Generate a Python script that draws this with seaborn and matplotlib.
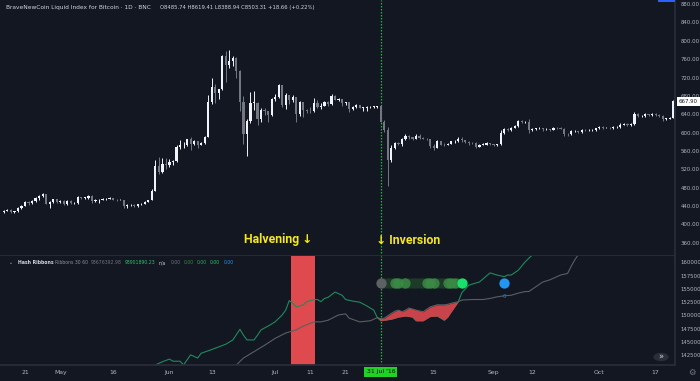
import numpy as np
import pandas as pd
import seaborn as sns
import matplotlib
matplotlib.use("Agg")
import matplotlib.pyplot as plt
import matplotlib.dates as mdates
import matplotlib.transforms as mtransforms
from matplotlib.patches import Rectangle, Circle

# Daily BNC candles, 15 Apr - 22 Oct 2016 (open = previous close)
first_open = 427
closes_apr = [430, 432, 427, 428, 435, 441, 449, 446, 450, 458, 461, 466, 445, 449, 455, 448]
highs_apr = [432, 434, 433, 430, 437, 443, 451, 450, 452, 460, 465, 469, 467, 451, 456, 456]
lows_apr = [425, 428, 425, 425, 427, 434, 440, 443, 444, 449, 453, 460, 444, 436, 446, 447]

closes_may = [451, 444, 450, 446, 447, 459, 458, 458, 461, 450, 452, 454, 455, 456, 457, 454,
              453, 454, 440, 442, 443, 439, 444, 445, 449, 453, 473, 527, 515, 531, 530]
highs_may = [452, 452, 452, 452, 449, 461, 460, 460, 464, 463, 455, 456, 458, 458, 459, 458,
             455, 456, 454, 444, 445, 444, 445, 447, 450, 454, 477, 540, 547, 545, 545]
lows_may = [447, 442, 442, 444, 444, 445, 455, 456, 456, 447, 448, 447, 452, 454, 455, 453,
            451, 452, 436, 436, 440, 437, 438, 442, 444, 448, 452, 472, 510, 512, 520]

closes_jun = [536, 537, 569, 572, 574, 585, 576, 581, 574, 577, 591, 667, 700, 686, 694, 766,
              748, 756, 763, 735, 666, 596, 625, 665, 665, 629, 650, 647, 639, 673]
highs_jun = [543, 540, 572, 584, 580, 586, 590, 583, 581, 580, 593, 682, 718, 705, 696, 770,
             778, 780, 766, 764, 736, 680, 630, 688, 690, 667, 653, 653, 647, 675]
lows_jun = [525, 530, 536, 565, 567, 570, 563, 572, 567, 572, 575, 590, 662, 665, 674, 693,
            711, 740, 745, 718, 647, 575, 548, 620, 649, 616, 624, 638, 622, 636]

closes_jul = [677, 703, 660, 683, 670, 677, 640, 666, 650, 648, 647, 665, 655, 659, 667, 662,
              679, 672, 673, 665, 666, 651, 656, 661, 654, 654, 655, 656, 656, 657, 624]
highs_jul = [685, 705, 704, 686, 683, 682, 677, 669, 667, 651, 655, 675, 672, 665, 668, 668,
             685, 682, 675, 673, 667, 666, 658, 662, 661, 656, 657, 657, 657, 659, 657]
lows_jul = [669, 675, 655, 651, 662, 666, 623, 637, 633, 642, 643, 645, 654, 651, 658, 659,
            660, 670, 668, 659, 661, 645, 650, 653, 653, 648, 647, 653, 653, 654, 622]

closes_aug = [606, 540, 566, 578, 575, 587, 592, 591, 587, 592, 589, 587, 585, 570, 567, 581,
              574, 573, 575, 581, 581, 586, 583, 580, 578, 577, 569, 574, 574, 577, 575]
highs_aug = [627, 612, 573, 580, 580, 589, 597, 594, 591, 598, 598, 590, 589, 587, 575, 583,
             582, 578, 578, 582, 583, 590, 590, 584, 582, 580, 579, 576, 577, 579, 578]
lows_aug = [602, 484, 535, 564, 573, 571, 583, 587, 583, 585, 586, 585, 583, 566, 563, 566,
            572, 570, 572, 575, 578, 580, 580, 578, 574, 575, 566, 568, 572, 573, 573]

closes_sep = [572, 575, 599, 608, 606, 610, 614, 626, 622, 623, 606, 608, 609, 610, 607, 607,
              606, 611, 610, 608, 597, 596, 603, 603, 601, 606, 605, 605, 605, 609]
highs_sep = [575, 576, 605, 611, 609, 612, 616, 628, 627, 625, 630, 610, 611, 612, 611, 609,
             608, 612, 613, 612, 609, 599, 605, 605, 604, 608, 608, 607, 608, 611]
lows_sep = [570, 570, 574, 598, 603, 604, 609, 613, 620, 620, 600, 603, 606, 607, 604, 605,
            604, 605, 608, 607, 592, 593, 595, 601, 599, 599, 603, 603, 603, 604]

closes_oct = [613, 610, 611, 609, 612, 612, 617, 619, 616, 618, 641, 636, 636, 640, 638, 641,
              639, 637, 630, 630, 632, 667.9]
highs_oct = [615, 614, 613, 612, 614, 615, 620, 621, 620, 620, 644, 642, 639, 642, 641, 643,
             642, 640, 638, 632, 634, 670]
lows_oct = [608, 608, 609, 607, 608, 610, 610, 616, 614, 615, 617, 633, 633, 635, 636, 637,
            636, 634, 626, 627, 629, 631]

# Hash ribbons: fast (30) and slow (60) lines, red cloud where fast < slow
fast_pre_dates = ["2016-05-24", "2016-05-28", "2016-05-30", "2016-06-01", "2016-06-02", "2016-06-04",
                  "2016-06-05", "2016-06-07", "2016-06-09", "2016-06-10", "2016-06-13", "2016-06-15",
                  "2016-06-17", "2016-06-19", "2016-06-21", "2016-06-22", "2016-06-23", "2016-06-25",
                  "2016-06-26", "2016-06-27", "2016-06-29", "2016-07-01", "2016-07-03", "2016-07-04",
                  "2016-07-05", "2016-07-06", "2016-07-07", "2016-07-09", "2016-07-10", "2016-07-12",
                  "2016-07-13", "2016-07-14", "2016-07-15", "2016-07-16", "2016-07-18", "2016-07-20",
                  "2016-07-21", "2016-07-23", "2016-07-25", "2016-07-27", "2016-07-29"]
fast_pre = [1396000, 1407000, 1413000, 1418000, 1414000, 1414000, 1407000, 1426000, 1420000,
            1429000, 1436000, 1441000, 1446000, 1454000, 1474000, 1463000, 1454000, 1454000,
            1463000, 1473000, 1480000, 1488000, 1501000, 1510000, 1528000, 1523000, 1516000,
            1520000, 1526000, 1530000, 1530000, 1526000, 1532000, 1534000, 1544000, 1538000,
            1530000, 1527000, 1525000, 1518000, 1510000]

slow_pre_dates = ["2016-06-17", "2016-06-20", "2016-06-22", "2016-06-25", "2016-06-28", "2016-07-01",
                  "2016-07-04", "2016-07-07", "2016-07-09", "2016-07-12", "2016-07-14", "2016-07-16",
                  "2016-07-19", "2016-07-21", "2016-07-22", "2016-07-25", "2016-07-28"]
slow_pre = [1396000, 1407000, 1420000, 1432000, 1444000, 1457000, 1467000, 1473000, 1480000,
            1488000, 1488000, 1491000, 1501000, 1503000, 1495000, 1488000, 1490000]

cloud_dates = ["2016-07-30", "2016-07-31", "2016-08-01", "2016-08-03", "2016-08-04", "2016-08-05",
               "2016-08-06", "2016-08-07", "2016-08-08", "2016-08-09", "2016-08-10", "2016-08-12",
               "2016-08-14", "2016-08-16", "2016-08-18", "2016-08-19", "2016-08-20", "2016-08-22"]
cloud_slow = [1496000, 1494000, 1495000, 1504000, 1508000, 1510000, 1507000, 1510000, 1514000,
              1512000, 1510000, 1507000, 1516000, 1520000, 1520000, 1521000, 1523000, 1526000]
cloud_fast = [1496000, 1490000, 1491000, 1493000, 1495000, 1497000, 1498000, 1499000, 1498000,
              1497000, 1490000, 1490000, 1498000, 1499000, 1491000, 1497000, 1507000, 1526000]

fast_post_dates = ["2016-08-23", "2016-08-25", "2016-08-28", "2016-08-31", "2016-09-02", "2016-09-04",
                   "2016-09-05", "2016-09-06", "2016-09-08", "2016-09-10", "2016-09-12", "2016-09-14"]
fast_post = [1543000, 1557000, 1563000, 1580000, 1576000, 1573000, 1576000, 1576000, 1585000,
             1601000, 1614000, 1632000]

slow_post_dates = ["2016-08-23", "2016-08-26", "2016-08-29", "2016-08-31", "2016-09-02", "2016-09-04",
                   "2016-09-06", "2016-09-08", "2016-09-10", "2016-09-11", "2016-09-13", "2016-09-15",
                   "2016-09-17", "2016-09-20", "2016-09-22", "2016-09-23", "2016-09-24", "2016-09-25",
                   "2016-09-26"]
slow_post = [1529000, 1530000, 1530000, 1532000, 1535000, 1537000, 1538000, 1542000, 1545000,
             1545000, 1554000, 1563000, 1567000, 1576000, 1579000, 1592000, 1604000, 1614000, 1623000]

# signal dots
signal_level = 1560500
gray_dot = ["2016-07-31"]
dim_dots = pd.date_range("2016-08-01", "2016-08-22", freq="D")
green_dots = ["2016-08-04", "2016-08-05", "2016-08-07", "2016-08-13", "2016-08-14", "2016-08-15",
              "2016-08-19", "2016-08-20", "2016-08-21"]
bright_dot = ["2016-08-23"]
blue_dot = ["2016-09-04"]
blue_label_level = 1535300

halving_box = ("2016-07-05 14:00", "2016-07-12 08:00")
inversion_day = "2016-07-31"

tick_dates = ["2016-04-21", "2016-05-01", "2016-05-16", "2016-06-01", "2016-06-13", "2016-07-01",
              "2016-07-11", "2016-07-21", "2016-08-15", "2016-09-01", "2016-09-12", "2016-10-01",
              "2016-10-17"]
tick_labels = ["21", "May", "16", "Jun", "13", "Jul", "11", "21", "15", "Sep", "12", "Oct", "17"]
price_ticks = list(range(360, 881, 40))
hash_ticks = list(range(1425000, 1600001, 25000))

# ---- style
bg = "#131722"
edge = "#2a2e39"
txt = "#b2b5be"
sns.set_theme(style="dark", rc={"axes.facecolor": bg, "figure.facecolor": bg,
                                "axes.edgecolor": edge, "axes.grid": False,
                                "xtick.color": txt, "ytick.color": txt})
plt.rcParams["font.family"] = ["DejaVu Sans"]

closes = closes_apr + closes_may + closes_jun + closes_jul + closes_aug + closes_sep + closes_oct
highs = highs_apr + highs_may + highs_jun + highs_jul + highs_aug + highs_sep + highs_oct
lows = lows_apr + lows_may + lows_jun + lows_jul + lows_aug + lows_sep + lows_oct
opens = [first_open] + closes[:-1]
dates = pd.date_range("2016-04-15", periods=len(closes), freq="D")

d = lambda s: mdates.date2num(pd.to_datetime(s))
x = mdates.date2num(dates)
o = np.array(opens, float)
c = np.array(closes, float)
colors = np.where(c >= o, "#f0f3fa", "#737781")

fig = plt.figure(figsize=(7, 3.81), dpi=100)
W, H = 700, 381
ax_p = fig.add_axes([0, 1 - 256 / H, 675 / W, 256 / H])
ax_h = fig.add_axes([0, 1 - 365 / H, 675 / W, 109 / H], sharex=ax_p)

jul31 = d(inversion_day)
ax_p.set_xlim(jul31 - 108.1, jul31 + 83.5)
ax_p.set_ylim(331, 889)
ax_h.set_ylim(1406900, 1611800)

# candles
ax_p.vlines(x, lows, highs, colors=colors, lw=0.7, zorder=2)
ax_p.bar(x, np.maximum(np.abs(c - o), 0.9), bottom=np.minimum(o, c), width=0.62,
         color=colors, linewidth=0, zorder=3)

# ribbons
fast_x = [d(v) for v in fast_pre_dates + cloud_dates + fast_post_dates]
fast_y = fast_pre + cloud_fast + fast_post
slow_x = [d(v) for v in slow_pre_dates + cloud_dates + slow_post_dates]
slow_y = slow_pre + cloud_slow + slow_post
sns.lineplot(x=slow_x, y=slow_y, ax=ax_h, color="#5a5e63", lw=0.8, zorder=2)
sns.lineplot(x=fast_x, y=fast_y, ax=ax_h, color="#1f8a5e", lw=0.8, zorder=2)
cx = [d(v) for v in cloud_dates]
ax_h.fill_between(cx, cloud_fast, cloud_slow, color="#c9444a", lw=0, zorder=3)

ax_h.axvspan(d(halving_box[0]), d(halving_box[1]), color="#df4a4f", lw=0, zorder=1)

sns.scatterplot(x=[d(v) for v in dim_dots], y=[signal_level] * len(dim_dots), ax=ax_h,
                color="#1d3b28", s=55, linewidth=0, zorder=4)
sns.scatterplot(x=[d(v) for v in green_dots], y=[signal_level] * len(green_dots), ax=ax_h,
                color="#3a8a45", alpha=0.85, s=55, linewidth=0, zorder=5)
sns.scatterplot(x=[d(v) for v in gray_dot], y=[signal_level], ax=ax_h,
                color="#5d6163", s=55, linewidth=0, zorder=5)
sns.scatterplot(x=[d(v) for v in bright_dot], y=[signal_level], ax=ax_h,
                color="#19e06b", s=55, linewidth=0, zorder=6)
sns.scatterplot(x=[d(v) for v in blue_dot], y=[signal_level], ax=ax_h,
                color="#2196f3", s=55, linewidth=0, zorder=6)
ax_h.text(d(blue_dot[0]), blue_label_level, "0", color="#2a7fd0", fontsize=4,
          ha="center", va="center", zorder=6)

# inversion line
for a in (ax_p, ax_h):
    a.axvline(jul31, color="#2bb03e", lw=0.9, ls=(0, (1.2, 1.2)), zorder=1)

# axes styling
for a in (ax_p, ax_h):
    for s in ("left", "top"):
        a.spines[s].set_visible(False)
    a.spines["right"].set_color(edge)
    a.spines["bottom"].set_color(edge)
    a.yaxis.tick_right()
    a.tick_params(axis="y", length=0, pad=4, labelsize=3.9, labelcolor=txt)
    a.set_xlabel("")
    a.set_ylabel("")
ax_p.tick_params(axis="x", bottom=False, labelbottom=False)
ax_p.set_yticks(price_ticks)
ax_p.set_yticklabels([f"{v:.2f}" for v in price_ticks])
ax_h.set_yticks(hash_ticks)
ax_h.set_yticklabels([f"{v:.2f}" for v in hash_ticks])
ax_h.set_xticks([d(v) for v in tick_dates])
ax_h.set_xticklabels(tick_labels)
ax_h.tick_params(axis="x", length=0, pad=3.5, labelsize=4.4, labelcolor=txt)

# last price tag
blend_p = mtransforms.blended_transform_factory(ax_p.transAxes, ax_p.transData)
ax_p.text(1.006, closes[-1], f"{closes[-1]:.2f}", transform=blend_p, fontsize=3.9,
          color="#131722", ha="left", va="center", zorder=10, clip_on=False,
          bbox=dict(boxstyle="square,pad=0.35", fc="#ffffff", ec="none"))

# date tag
blend_h = mtransforms.blended_transform_factory(ax_h.transData, ax_h.transAxes)
ax_h.text(jul31, -0.064, "31 Jul '16", transform=blend_h, fontsize=4.4, color="#0b0b0b",
          ha="center", va="center", clip_on=False, zorder=10,
          bbox=dict(boxstyle="square,pad=0.35", fc="#1fd324", ec="none"))

# header texts
fx = lambda px: px / W
fy = lambda py: 1 - py / H
fig.text(fx(6), fy(8), "BraveNewCoin Liquid Index for Bitcoin · 1D · BNC", fontsize=4.25,
         color="#d1d4dc", va="center")
fig.text(fx(160), fy(8), "O8485.74 H8619.41 L8388.94 C8503.31 +18.66 (+0.22%)",
         fontsize=3.8, color="#d1d4dc", va="center")

# indicator legend
legend = [(8, "⌄", "#b2b5be", "normal"), (18, "Hash Ribbons", "#d1d4dc", "bold"),
          (55, "Ribbons 30 60", "#8a8e98", "normal"), (91, "93676392.98", "#6f737c", "normal"),
          (125, "93901890.23", "#2fbf6a", "normal"), (159, "n/a", "#d1d4dc", "normal"),
          (171, "0.00", "#6f737c", "normal"), (184, "0.00", "#3a8a45", "normal"),
          (197, "0.00", "#2fae55", "normal"), (210, "0.00", "#22c862", "normal"),
          (224, "0.00", "#2196f3", "normal")]
for px, s, col, wt in legend:
    fig.text(fx(px), fy(263), s, fontsize=3.3, color=col, fontweight=wt, va="center")

# annotations
fig.text(fx(312), fy(240), "Halvening ↓", fontsize=8.8, fontweight="bold", color="#f5e81c",
         ha="right", va="center", family=["Roboto", "DejaVu Sans"])
fig.text(fx(376), fy(240), "↓ Inversion", fontsize=8.8, fontweight="bold", color="#f5e81c",
         va="center", family=["Roboto", "DejaVu Sans"])

# small chrome
fig.patches.append(Rectangle((fx(658), fy(1.5)), fx(17), 1.5 / H, transform=fig.transFigure,
                             color="#2962ff", lw=0))
fig.patches.append(Circle((fx(661), fy(357)), 0.011, transform=fig.transFigure,
                          color="#2a2e39", lw=0))
fig.text(fx(661), fy(357), "»", fontsize=6, color="#d1d4dc", ha="center", va="center")
fig.text(fx(692), fy(372), "⚙", fontsize=6, color="#787b86", ha="center", va="center")

fig.savefig("out.png", dpi=100, facecolor=bg)
